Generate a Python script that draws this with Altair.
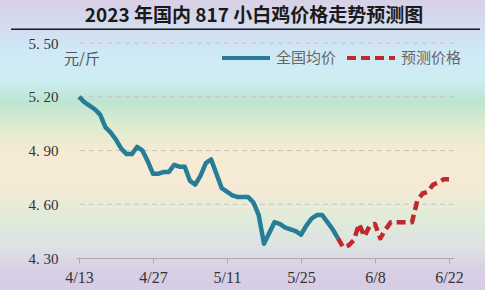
import altair as alt
import pandas as pd

title_text = "2023 年国内 817 小白鸡价格走势预测图"
unit_text = "元/斤"
series_names = ["全国均价", "预测价格"]
series_colors = ["#267d96", "#c0282b"]

tick_days = [0, 14, 28, 42, 56, 70]
tick_labels = ["4/13", "4/27", "5/11", "5/25", "6/8", "6/22"]
y_ticks = [4.30, 4.60, 4.90, 5.20, 5.50]
grid_vals = [4.60, 4.90, 5.20, 5.50]

actual_days = list(range(0, 50))
actual = [5.20, 5.17, 5.15, 5.13, 5.10, 5.03, 5.00, 4.96, 4.91, 4.88,
          4.88, 4.92, 4.90, 4.84, 4.77, 4.77, 4.78, 4.78, 4.82, 4.81,
          4.81, 4.73, 4.71, 4.76, 4.83, 4.85, 4.77, 4.69, 4.67, 4.65,
          4.64, 4.64, 4.64, 4.61, 4.54, 4.38, 4.44, 4.50, 4.49, 4.47,
          4.46, 4.45, 4.43, 4.48, 4.52, 4.54, 4.54, 4.50, 4.46, 4.41]
pred_days = list(range(49, 71))
pred = [4.41, 4.36, 4.37, 4.40, 4.49, 4.42, 4.48, 4.49, 4.41, 4.46,
        4.50, 4.50, 4.50, 4.50, 4.50, 4.62, 4.66, 4.67, 4.71, 4.72,
        4.74, 4.74]

df = pd.DataFrame({
    "day": actual_days + pred_days,
    "price": actual + pred,
    "series": [series_names[0]] * len(actual) + [series_names[1]] * len(pred),
})

W, H = 378, 215
PAD = {"left": 76, "top": 43, "right": 31, "bottom": 32}

bg_stops = [
    (0.00, "#d8d0e6"), (0.07, "#d4d9ec"), (0.17, "#d0e8f6"), (0.27, "#cdeef2"),
    (0.35, "#bde5d2"), (0.43, "#dcebd0"), (0.52, "#f5ebd3"), (0.64, "#f6ead6"),
    (0.75, "#e0ecd8"), (0.85, "#dde2e4"), (0.93, "#d8cfe5"), (1.00, "#d6cde6"),
]
gradient = alt.Gradient(
    gradient="linear",
    stops=[alt.GradientStop(offset=o, color=c) for o, c in bg_stops],
    x1=0, x2=0, y1=0, y2=1,
)

bg = alt.Chart(alt.Data(values=[{"a": 1}])).mark_rect(fill=gradient).encode(
    x=alt.value(-PAD["left"]), x2=alt.value(W + PAD["right"]),
    y=alt.value(-PAD["top"]), y2=alt.value(H + PAD["bottom"]),
)

xscale = alt.Scale(domain=[-0.57, 70.95], nice=False, zero=False)
yscale = alt.Scale(domain=[4.30, 5.50], nice=False, zero=False)

grid = alt.Chart(pd.DataFrame({"v": grid_vals})).mark_rule(
    color="#c4c4c4", strokeDash=[5, 4], strokeWidth=1
).encode(y=alt.Y("v:Q", scale=yscale))

label_expr = "[" + ",".join(f"'{l}'" for l in tick_labels) + "][indexof([" + \
    ",".join(str(d) for d in tick_days) + "], datum.value)]"

legend = alt.Legend(
    orient="none", legendX=144, legendY=-11, direction="horizontal", title=None,
    symbolType="stroke", symbolSize=2304, symbolStrokeWidth=4,
    labelFont="Noto Sans CJK SC", labelFontSize=15, labelColor="#666666",
    labelOffset=4, columnPadding=2,
)

lines = alt.Chart(df).mark_line(strokeWidth=4.5, strokeJoin="round").encode(
    x=alt.X("day:Q", scale=xscale, axis=alt.Axis(
        values=tick_days, labelExpr=label_expr, title=None, grid=False, zindex=1,
        domainColor="#aaaaaa", tickColor="#aaaaaa", tickSize=5, labelPadding=6,
        labelFont="Liberation Serif", labelFontSize=16, labelColor="#333333",
        labelFlush=False)),
    y=alt.Y("price:Q", scale=yscale, axis=alt.Axis(
        values=y_ticks, title=None, grid=False, domain=False, ticks=False, zindex=1,
        labelPadding=18, labelFont="Liberation Serif", labelFontSize=15,
        labelColor="#333333",
        labelExpr="replace(format(datum.value, '.2f'), '.', '. ')")),
    color=alt.Color("series:N", scale=alt.Scale(domain=series_names, range=series_colors),
                    legend=legend),
    strokeDash=alt.StrokeDash("series:N", scale=alt.Scale(domain=series_names,
                              range=[[1, 0], [9, 5]]), legend=legend),
    order="day:Q",
)

title = alt.Chart(alt.Data(values=[{"t": title_text}])).mark_text(
    font="Noto Sans CJK SC", fontWeight="bold", fontSize=19, color="#1a1a1a",
    align="center", baseline="alphabetic"
).encode(text="t:N", x=alt.value(178), y=alt.value(-21))

title_rule = alt.Chart(alt.Data(values=[{"a": 1}])).mark_rule(
    color="#1a1a1a", strokeWidth=1.5
).encode(x=alt.value(-65), x2=alt.value(404), y=alt.value(-13.7))

unit = alt.Chart(alt.Data(values=[{"t": unit_text}])).mark_text(
    font="Noto Sans CJK SC", fontSize=15, color="#555555",
    align="left", baseline="middle"
).encode(text="t:N", x=alt.value(-12), y=alt.value(16))

chart = alt.layer(bg, grid, lines, title, title_rule, unit).properties(
    width=W, height=H,
    autosize=alt.AutoSizeParams(type="none"),
    padding=PAD,
).configure_view(stroke=None).configure(background="#d8d0e6")

chart.save("out.html", embed_options={"renderer": "svg", "actions": False})
